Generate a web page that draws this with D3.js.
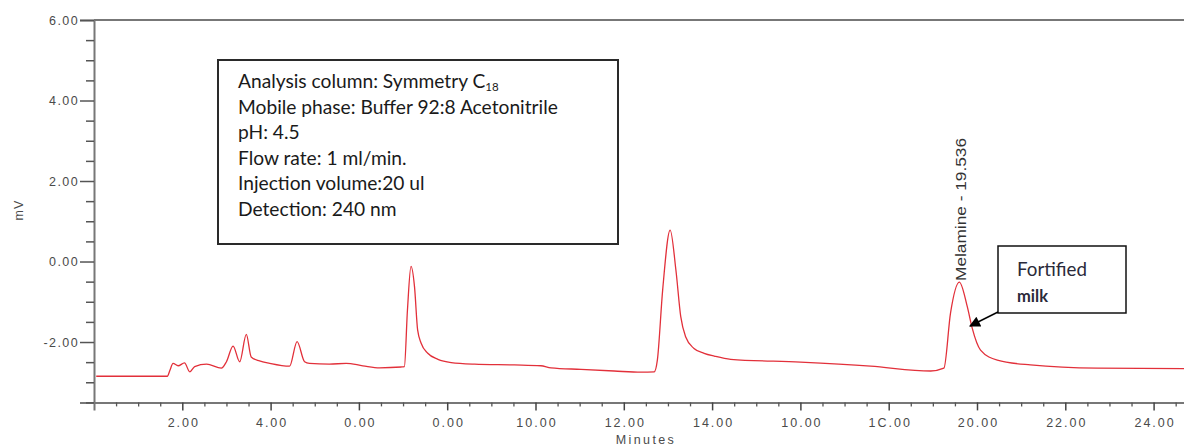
<!DOCTYPE html>
<html>
<head>
<meta charset="utf-8">
<script src="https://cdn.jsdelivr.net/npm/d3@7"></script>
<style>
  html, body { margin: 0; padding: 0; background: #fff; }
  svg { display: block; }
</style>
</head>
<body>
<svg id="chart" width="1184" height="448"></svg>
<script>
// ---- data ----
const retentionTimes = [0.05, 1.66, 1.72, 1.79, 1.905, 2.05, 2.17, 2.28, 2.55, 2.885, 3.0, 3.15, 3.30, 3.45, 3.56, 3.75, 3.98, 4.43, 4.60, 4.77, 4.88, 5.33, 5.71, 6.09, 6.47, 6.96, 7.03, 7.10, 7.18, 7.26, 7.33, 7.41, 7.56, 7.79, 8.09, 8.62, 9.52, 10.12, 10.35, 11.03, 11.78, 12.39, 12.69, 12.76, 12.88, 13.05, 13.18, 13.29, 13.40, 13.59, 13.82, 14.05, 14.42, 16.0, 17.59, 18.95, 19.25, 19.40, 19.60, 19.78, 19.89, 20.08, 20.46, 21.21, 22.72, 25.0];
const signalMv = [-2.85, -2.85, -2.70, -2.53, -2.59, -2.52, -2.74, -2.61, -2.55, -2.65, -2.49, -2.10, -2.49, -1.81, -2.37, -2.47, -2.53, -2.60, -1.99, -2.49, -2.53, -2.55, -2.53, -2.59, -2.64, -2.62, -2.61, -1.20, -0.12, -0.63, -1.70, -2.03, -2.28, -2.43, -2.51, -2.55, -2.57, -2.59, -2.64, -2.68, -2.72, -2.75, -2.74, -2.45, -0.71, 0.78, -0.21, -1.37, -1.87, -2.16, -2.28, -2.35, -2.43, -2.50, -2.60, -2.72, -2.65, -1.28, -0.51, -1.12, -1.65, -2.20, -2.45, -2.57, -2.65, -2.66];

const xMajorTicks = [2, 4, 6, 8, 10, 12, 14, 16, 18, 20, 22, 24];
const xTickLabels = ["2.00", "4.00", "0.00", "0.00", "10.00", "12.00", "14.00", "10.00", "1C.00", "20.00", "22.00", "24.00"];
const xMinorTicks = d3.range(0.5, 25.01, 0.5).filter(v => v % 2 !== 0);
const yMajorTicks = [6, 4, 2, 0, -2];
const yTickLabels = ["6.00", "4.00", "2.00", "0.00", "-2.00"];
const yMinorTicks = d3.range(-3.5, 6.01, 0.5).filter(v => v % 2 !== 0);

const xTitle = "Minutes";
const yTitle = "mV";
const infoLines = ["Analysis column: Symmetry C", "Mobile phase: Buffer 92:8 Acetonitrile", "pH: 4.5", "Flow rate: 1 ml/min.", "Injection volume:20 ul", "Detection: 240 nm"];
const infoSubscript = "18";
const peakName = "Melamine";
const peakTime = 19.536;
const calloutLines = ["Fortified", "milk"];

// ---- scales ----
const svg = d3.select("#chart");
const x = d3.scaleLinear().domain([0, 25]).range([94, 94 + 44.15 * 25]);
const y = d3.scaleLinear().domain([-3.5, 6]).range([402.4, 20]);
const axisColor = "#777";
const labelColor = "#4a4a4a";
const labelFont = "Arial, 'Liberation Sans', Helvetica, sans-serif";

// top border
svg.append("line")
  .attr("x1", x(0)).attr("x2", 1190)
  .attr("y1", y(6)).attr("y2", y(6))
  .attr("stroke", axisColor).attr("stroke-width", 2);

// x axis (major)
const gx = svg.append("g").attr("transform", `translate(0,${y(-3.5)})`)
  .call(d3.axisBottom(x).tickValues(xMajorTicks).tickSize(8).tickPadding(8)
    .tickFormat((d, i) => xTickLabels[i]));
gx.select(".domain").attr("stroke", axisColor).attr("stroke-width", 2);
gx.selectAll(".tick line").attr("stroke", "#444").attr("stroke-width", 1.5);
gx.selectAll(".tick text").attr("fill", labelColor).attr("font-family", labelFont)
  .attr("font-size", 12.5).attr("letter-spacing", "2px").attr("dx", "1px");

const gxm = svg.append("g").attr("transform", `translate(0,${y(-3.5)})`)
  .call(d3.axisBottom(x).tickValues(xMinorTicks).tickSize(4).tickFormat(""));
gxm.select(".domain").remove();
gxm.selectAll(".tick line").attr("stroke", "#555").attr("stroke-width", 1.3);

// y axis (major)
const gy = svg.append("g").attr("transform", `translate(${x(0)},0)`)
  .call(d3.axisLeft(y).tickValues(yMajorTicks).tickSize(14).tickPadding(1)
    .tickFormat((d, i) => yTickLabels[i]));
gy.select(".domain").attr("stroke", axisColor).attr("stroke-width", 2);
gy.selectAll(".tick line").attr("stroke", "#555").attr("stroke-width", 1.5);
gy.selectAll(".tick text").attr("fill", labelColor).attr("font-family", labelFont)
  .attr("font-size", 12.5).attr("letter-spacing", "1.4px");

const gym = svg.append("g").attr("transform", `translate(${x(0)},0)`)
  .call(d3.axisLeft(y).tickValues(yMinorTicks).tickSize(8).tickFormat(""));
gym.select(".domain").remove();
gym.selectAll(".tick line").attr("stroke", "#555").attr("stroke-width", 1.5);

// axis titles
svg.append("text").attr("x", 646).attr("y", 444)
  .attr("text-anchor", "middle").attr("font-family", labelFont)
  .attr("font-size", 12.5).attr("letter-spacing", "2.4px").attr("fill", labelColor)
  .text(xTitle);
svg.append("text").attr("transform", "translate(23,210) rotate(-90)")
  .attr("text-anchor", "middle").attr("font-family", labelFont)
  .attr("font-size", 12.5).attr("letter-spacing", "1px").attr("fill", labelColor)
  .text(yTitle);

// trace
const pts = retentionTimes.map((t, i) => [t, signalMv[i]]);
svg.append("defs").append("clipPath").attr("id", "plotclip")
  .append("rect").attr("x", x(0) + 1).attr("y", y(6)).attr("width", 1200).attr("height", y(-3.5) - y(6));
svg.append("path").datum(pts)
  .attr("clip-path", "url(#plotclip)")
  .attr("fill", "none").attr("stroke", "#e2303a").attr("stroke-width", 1.3)
  .attr("stroke-linejoin", "round")
  .attr("d", d3.line().x(d => x(d[0])).y(d => y(d[1])).curve(d3.curveMonotoneX));

// info box
const info = svg.append("g");
info.append("rect").attr("x", 218).attr("y", 60).attr("width", 400).attr("height", 184)
  .attr("fill", "#fff").attr("stroke", "#2a2a2a").attr("stroke-width", 2);
const infoFont = "Lato, 'Open Sans', sans-serif";
const lineTexts = info.selectAll("text.info").data(infoLines).join("text")
  .attr("class", "info")
  .attr("x", 238).attr("y", (d, i) => 88 + i * 25.5)
  .attr("font-family", infoFont).attr("font-size", 15).attr("fill", "#1a1a1a")
  .text(d => d);
// fit font size to measured width of second line (≈320px)
const measured = lineTexts.nodes()[1].getComputedTextLength();
const fs = 15 * 320 / measured;
lineTexts.attr("font-size", fs);
const first = lineTexts.filter((d, i) => i === 0);
first.append("tspan").attr("font-size", fs * 0.6).attr("dy", 3).text(infoSubscript);

// peak label
svg.append("text")
  .attr("transform", `translate(${x(peakTime) + 4},281) rotate(-90)`)
  .attr("text-anchor", "start").attr("dy", "0.35em")
  .attr("font-family", labelFont).attr("font-size", 15).attr("fill", "#333")
  .attr("textLength", 143).attr("lengthAdjust", "spacingAndGlyphs")
  .text(`${peakName} - ${peakTime}`);

// callout
const co = svg.append("g");
co.append("rect").attr("x", 998).attr("y", 246).attr("width", 128).attr("height", 67)
  .attr("fill", "#fff").attr("stroke", "#111").attr("stroke-width", 1.5);
const t1 = co.append("text").attr("x", 1017).attr("y", 276)
  .attr("font-family", infoFont).attr("font-size", 16).attr("fill", "#2a2a3a")
  .text(calloutLines[0]);
t1.attr("font-size", 16 * 70 / t1.node().getComputedTextLength());
const t2 = co.append("text").attr("x", 1017).attr("y", 302)
  .attr("font-family", infoFont).attr("font-size", 12).attr("font-weight", 700).attr("fill", "#2a2a3a")
  .text(calloutLines[1]);
t2.attr("font-size", 12 * 31 / t2.node().getComputedTextLength());

// arrow
const defs = svg.select("defs");
defs.append("marker").attr("id", "arrowhead").attr("viewBox", "0 0 10 10")
  .attr("refX", 9).attr("refY", 5).attr("markerWidth", 14).attr("markerHeight", 11)
  .attr("markerUnits", "userSpaceOnUse").attr("orient", "auto")
  .append("path").attr("d", "M0,0 L10,5 L0,10 Z").attr("fill", "#000");
co.append("line").attr("x1", 998).attr("y1", 312).attr("x2", 970).attr("y2", 326)
  .attr("stroke", "#000").attr("stroke-width", 1.5).attr("marker-end", "url(#arrowhead)");
</script>
</body>
</html>
